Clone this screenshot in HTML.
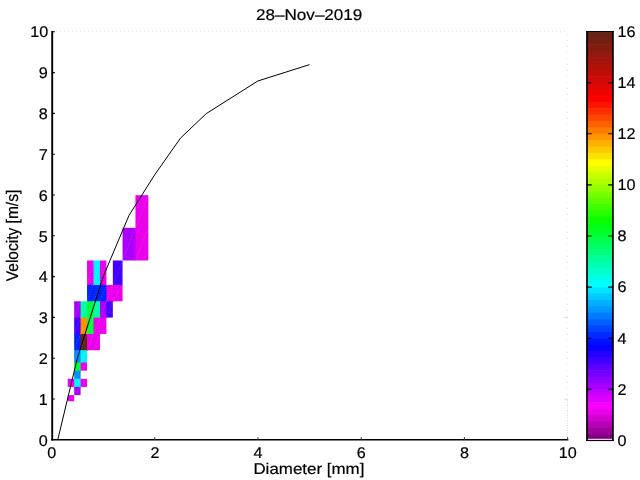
<!DOCTYPE html><html><head><meta charset="utf-8"><title>plot</title><style>html,body{margin:0;padding:0;background:#fff;overflow:hidden}svg{display:block}text{font-family:"Liberation Sans",Arial,Helvetica,sans-serif;fill:#000;stroke:#000;stroke-width:0.2px;text-rendering:geometricPrecision}</style></head><body>
<svg width="640" height="480" viewBox="0 0 640 480">
<rect width="640" height="480" fill="#fff"/>
<defs><linearGradient id="cb" x1="0" y1="1" x2="0" y2="0">
<stop offset="0.0000" stop-color="rgb(128, 0, 128)"/>
<stop offset="0.0750" stop-color="rgb(255, 0, 255)"/>
<stop offset="0.2281" stop-color="rgb(0, 0, 255)"/>
<stop offset="0.3812" stop-color="rgb(0, 255, 255)"/>
<stop offset="0.5344" stop-color="rgb(0, 255, 0)"/>
<stop offset="0.6813" stop-color="rgb(255, 255, 0)"/>
<stop offset="0.8375" stop-color="rgb(255, 0, 0)"/>
<stop offset="1.0000" stop-color="rgb(100, 35, 20)"/>
</linearGradient></defs>
<g><rect x="67.70" y="378.80" width="7.15" height="8.16" fill="rgb(234, 0, 234)"/><rect x="67.70" y="395.12" width="6.45" height="6.12" fill="rgb(234, 0, 234)"/><rect x="74.15" y="301.28" width="7.15" height="17.02" fill="rgb(172, 0, 255)"/><rect x="74.15" y="317.60" width="7.15" height="17.02" fill="rgb(68, 0, 255)"/><rect x="74.15" y="333.92" width="7.15" height="17.02" fill="rgb(0, 36, 255)"/><rect x="74.15" y="350.24" width="7.15" height="12.94" fill="rgb(0, 141, 255)"/><rect x="74.15" y="362.48" width="7.15" height="8.86" fill="rgb(0, 255, 57)"/><rect x="74.15" y="370.64" width="6.45" height="8.86" fill="rgb(0, 141, 255)"/><rect x="74.15" y="378.80" width="7.15" height="8.86" fill="rgb(0, 245, 255)"/><rect x="74.15" y="386.96" width="6.45" height="8.16" fill="rgb(172, 0, 255)"/><rect x="80.60" y="301.28" width="7.15" height="17.02" fill="rgb(0, 255, 161)"/><rect x="80.60" y="317.60" width="7.15" height="17.02" fill="rgb(255, 143, 0)"/><rect x="80.60" y="333.92" width="7.15" height="17.02" fill="rgb(100, 35, 20)"/><rect x="80.60" y="350.24" width="6.45" height="12.94" fill="rgb(0, 245, 255)"/><rect x="80.60" y="362.48" width="6.45" height="8.16" fill="rgb(234, 0, 234)"/><rect x="80.60" y="378.80" width="6.45" height="8.16" fill="rgb(234, 0, 234)"/><rect x="87.05" y="260.48" width="7.15" height="25.18" fill="rgb(234, 0, 234)"/><rect x="87.05" y="284.96" width="7.15" height="17.02" fill="rgb(0, 36, 255)"/><rect x="87.05" y="301.28" width="7.15" height="17.02" fill="rgb(0, 255, 57)"/><rect x="87.05" y="317.60" width="7.15" height="17.02" fill="rgb(0, 255, 57)"/><rect x="87.05" y="333.92" width="7.15" height="16.32" fill="rgb(234, 0, 234)"/><rect x="93.50" y="260.48" width="7.15" height="25.18" fill="rgb(0, 245, 255)"/><rect x="93.50" y="284.96" width="7.15" height="17.02" fill="rgb(0, 36, 255)"/><rect x="93.50" y="301.28" width="7.15" height="17.02" fill="rgb(0, 255, 161)"/><rect x="93.50" y="317.60" width="7.15" height="17.02" fill="rgb(234, 0, 234)"/><rect x="93.50" y="333.92" width="6.45" height="16.32" fill="rgb(234, 0, 234)"/><rect x="99.95" y="260.48" width="6.45" height="25.18" fill="rgb(234, 0, 234)"/><rect x="99.95" y="284.96" width="7.15" height="17.02" fill="rgb(0, 36, 255)"/><rect x="99.95" y="301.28" width="7.15" height="17.02" fill="rgb(172, 0, 255)"/><rect x="99.95" y="317.60" width="6.45" height="16.32" fill="rgb(234, 0, 234)"/><rect x="106.40" y="284.96" width="7.15" height="17.02" fill="rgb(234, 0, 234)"/><rect x="106.40" y="301.28" width="6.45" height="16.32" fill="rgb(68, 0, 255)"/><rect x="112.85" y="260.48" width="9.70" height="25.18" fill="rgb(68, 0, 255)"/><rect x="112.85" y="284.96" width="9.70" height="16.32" fill="rgb(234, 0, 234)"/><rect x="122.55" y="227.84" width="13.60" height="32.64" fill="rgb(172, 0, 255)"/><rect x="135.45" y="195.20" width="12.90" height="33.34" fill="rgb(234, 0, 234)"/><rect x="135.45" y="227.84" width="12.90" height="32.64" fill="rgb(234, 0, 234)"/></g>
<path d="M74.15 378.80L67.70 386.96M74.15 395.12L67.70 401.24M80.60 301.28L74.15 317.60M80.60 317.60L74.15 333.92M80.60 333.92L74.15 350.24M80.60 350.24L74.15 362.48M80.60 362.48L74.15 370.64M80.60 370.64L74.15 378.80M80.60 378.80L74.15 386.96M80.60 386.96L74.15 395.12M87.05 301.28L80.60 317.60M87.05 317.60L80.60 333.92M87.05 333.92L80.60 350.24M87.05 350.24L80.60 362.48M87.05 362.48L80.60 370.64M87.05 378.80L80.60 386.96M93.50 260.48L87.05 284.96M93.50 284.96L87.05 301.28M93.50 301.28L87.05 317.60M93.50 317.60L87.05 333.92M93.50 333.92L87.05 350.24M99.95 260.48L93.50 284.96M99.95 284.96L93.50 301.28M99.95 301.28L93.50 317.60M99.95 317.60L93.50 333.92M99.95 333.92L93.50 350.24M106.40 260.48L99.95 284.96M106.40 284.96L99.95 301.28M106.40 301.28L99.95 317.60M106.40 317.60L99.95 333.92M112.85 284.96L106.40 301.28M112.85 301.28L106.40 317.60M122.55 260.48L112.85 284.96M122.55 284.96L112.85 301.28M135.45 227.84L122.55 260.48M148.35 195.20L135.45 227.84M148.35 227.84L135.45 260.48" stroke="#fff" stroke-opacity="0.3" stroke-width="0.8" stroke-dasharray="0.8 1.6" fill="none"/>
<path d="M56.0 31.7H568.0" stroke="#e4e4e4" stroke-width="1" stroke-dasharray="1 3" fill="none"/>
<path d="M567.5 34V400" stroke="#e8e8e8" stroke-width="1" stroke-dasharray="1 5" fill="none"/>
<path d="M567.5 400V437" stroke="#d8d8d8" stroke-width="1" stroke-dasharray="1 1.5" fill="none"/>
<polyline points="57.69,440.00 77.30,358.40 103.10,276.80 128.90,215.60 154.70,174.80 180.50,138.08 206.30,113.60 257.90,80.96 309.50,64.64" fill="none" stroke="#000" stroke-width="1"/>
<path d="M52.2 31V440.6" stroke="#000" stroke-width="1.9" fill="none"/>
<path d="M51.2 439.7H568.3" stroke="#000" stroke-width="1.5" fill="none"/>
<path d="M52.0 399.00h2.8 M52.0 358.20h2.8 M52.0 317.40h2.8 M52.0 276.60h2.8 M52.0 235.80h2.8 M52.0 195.00h2.8 M52.0 154.20h2.8 M52.0 113.40h2.8 M52.0 72.60h2.8 M52.0 31.80h2.8" stroke="#000" stroke-width="1.1" fill="none"/>
<path d="M154.80 440.0v-2.8 M258.00 440.0v-2.8 M361.20 440.0v-2.8 M464.40 440.0v-2.8 M567.60 440.0v-2.8" stroke="#333" stroke-width="1" fill="none"/>
<path d="M568.0 399.20h-4 M568.0 317.60h-4" stroke="#ddd" stroke-width="1" fill="none"/>
<text x="51.70" y="457.6" font-size="15.5" text-anchor="middle" textLength="9.0" lengthAdjust="spacingAndGlyphs">0</text>
<text x="154.90" y="457.6" font-size="15.5" text-anchor="middle" textLength="9.0" lengthAdjust="spacingAndGlyphs">2</text>
<text x="258.10" y="457.6" font-size="15.5" text-anchor="middle" textLength="9.0" lengthAdjust="spacingAndGlyphs">4</text>
<text x="361.30" y="457.6" font-size="15.5" text-anchor="middle" textLength="9.0" lengthAdjust="spacingAndGlyphs">6</text>
<text x="464.50" y="457.6" font-size="15.5" text-anchor="middle" textLength="9.0" lengthAdjust="spacingAndGlyphs">8</text>
<text x="567.70" y="457.6" font-size="15.5" text-anchor="middle" textLength="18.0" lengthAdjust="spacingAndGlyphs">10</text>
<text x="47.8" y="445.60" font-size="15.5" text-anchor="end" textLength="9.0" lengthAdjust="spacingAndGlyphs">0</text>
<text x="47.8" y="404.80" font-size="15.5" text-anchor="end" textLength="9.0" lengthAdjust="spacingAndGlyphs">1</text>
<text x="47.8" y="364.00" font-size="15.5" text-anchor="end" textLength="9.0" lengthAdjust="spacingAndGlyphs">2</text>
<text x="47.8" y="323.20" font-size="15.5" text-anchor="end" textLength="9.0" lengthAdjust="spacingAndGlyphs">3</text>
<text x="47.8" y="282.40" font-size="15.5" text-anchor="end" textLength="9.0" lengthAdjust="spacingAndGlyphs">4</text>
<text x="47.8" y="241.60" font-size="15.5" text-anchor="end" textLength="9.0" lengthAdjust="spacingAndGlyphs">5</text>
<text x="47.8" y="200.80" font-size="15.5" text-anchor="end" textLength="9.0" lengthAdjust="spacingAndGlyphs">6</text>
<text x="47.8" y="160.00" font-size="15.5" text-anchor="end" textLength="9.0" lengthAdjust="spacingAndGlyphs">7</text>
<text x="47.8" y="119.20" font-size="15.5" text-anchor="end" textLength="9.0" lengthAdjust="spacingAndGlyphs">8</text>
<text x="47.8" y="78.10" font-size="15.5" text-anchor="end" textLength="9.0" lengthAdjust="spacingAndGlyphs">9</text>
<text x="48.3" y="36.70" font-size="15.5" text-anchor="end" textLength="18.0" lengthAdjust="spacingAndGlyphs">10</text>
<text x="309.2" y="20.1" font-size="15.5" text-anchor="middle" textLength="106.3" lengthAdjust="spacingAndGlyphs">28&#8211;Nov&#8211;2019</text>
<text x="308.9" y="473.8" font-size="15.5" text-anchor="middle" textLength="111" lengthAdjust="spacingAndGlyphs">Diameter [mm]</text>
<text transform="translate(18.3 235.5) rotate(-90)" font-size="16.8" text-anchor="middle" textLength="91.5" lengthAdjust="spacingAndGlyphs">Velocity [m/s]</text>
<g><rect x="586.7" y="31.50" width="26.5" height="6.99" fill="rgb(100, 35, 20)"/><rect x="586.7" y="37.89" width="26.5" height="6.99" fill="rgb(115, 32, 18)"/><rect x="586.7" y="44.28" width="26.5" height="6.99" fill="rgb(130, 28, 16)"/><rect x="586.7" y="50.67" width="26.5" height="6.99" fill="rgb(145, 25, 14)"/><rect x="586.7" y="57.06" width="26.5" height="6.99" fill="rgb(161, 21, 12)"/><rect x="586.7" y="63.45" width="26.5" height="6.99" fill="rgb(176, 18, 10)"/><rect x="586.7" y="69.84" width="26.5" height="6.99" fill="rgb(191, 14, 8)"/><rect x="586.7" y="76.23" width="26.5" height="6.99" fill="rgb(206, 11, 6)"/><rect x="586.7" y="82.62" width="26.5" height="6.99" fill="rgb(221, 8, 4)"/><rect x="586.7" y="89.02" width="26.5" height="6.99" fill="rgb(236, 4, 2)"/><rect x="586.7" y="95.41" width="26.5" height="6.99" fill="rgb(251, 1, 0)"/><rect x="586.7" y="101.80" width="26.5" height="6.99" fill="rgb(255, 20, 0)"/><rect x="586.7" y="108.19" width="26.5" height="6.99" fill="rgb(255, 46, 0)"/><rect x="586.7" y="114.58" width="26.5" height="6.99" fill="rgb(255, 72, 0)"/><rect x="586.7" y="120.97" width="26.5" height="6.99" fill="rgb(255, 97, 0)"/><rect x="586.7" y="127.36" width="26.5" height="6.99" fill="rgb(255, 123, 0)"/><rect x="586.7" y="133.75" width="26.5" height="6.99" fill="rgb(255, 149, 0)"/><rect x="586.7" y="140.14" width="26.5" height="6.99" fill="rgb(255, 175, 0)"/><rect x="586.7" y="146.53" width="26.5" height="6.99" fill="rgb(255, 201, 0)"/><rect x="586.7" y="152.92" width="26.5" height="6.99" fill="rgb(255, 227, 0)"/><rect x="586.7" y="159.31" width="26.5" height="6.99" fill="rgb(255, 253, 0)"/><rect x="586.7" y="165.70" width="26.5" height="6.99" fill="rgb(230, 255, 0)"/><rect x="586.7" y="172.09" width="26.5" height="6.99" fill="rgb(202, 255, 0)"/><rect x="586.7" y="178.48" width="26.5" height="6.99" fill="rgb(175, 255, 0)"/><rect x="586.7" y="184.88" width="26.5" height="6.99" fill="rgb(147, 255, 0)"/><rect x="586.7" y="191.27" width="26.5" height="6.99" fill="rgb(119, 255, 0)"/><rect x="586.7" y="197.66" width="26.5" height="6.99" fill="rgb(92, 255, 0)"/><rect x="586.7" y="204.05" width="26.5" height="6.99" fill="rgb(64, 255, 0)"/><rect x="586.7" y="210.44" width="26.5" height="6.99" fill="rgb(37, 255, 0)"/><rect x="586.7" y="216.83" width="26.5" height="6.99" fill="rgb(9, 255, 0)"/><rect x="586.7" y="223.22" width="26.5" height="6.99" fill="rgb(0, 255, 18)"/><rect x="586.7" y="229.61" width="26.5" height="6.99" fill="rgb(0, 255, 44)"/><rect x="586.7" y="236.00" width="26.5" height="6.99" fill="rgb(0, 255, 70)"/><rect x="586.7" y="242.39" width="26.5" height="6.99" fill="rgb(0, 255, 97)"/><rect x="586.7" y="248.78" width="26.5" height="6.99" fill="rgb(0, 255, 123)"/><rect x="586.7" y="255.17" width="26.5" height="6.99" fill="rgb(0, 255, 150)"/><rect x="586.7" y="261.56" width="26.5" height="6.99" fill="rgb(0, 255, 176)"/><rect x="586.7" y="267.95" width="26.5" height="6.99" fill="rgb(0, 255, 203)"/><rect x="586.7" y="274.34" width="26.5" height="6.99" fill="rgb(0, 255, 229)"/><rect x="586.7" y="280.73" width="26.5" height="6.99" fill="rgb(0, 255, 255)"/><rect x="586.7" y="287.12" width="26.5" height="6.99" fill="rgb(0, 228, 255)"/><rect x="586.7" y="293.52" width="26.5" height="6.99" fill="rgb(0, 202, 255)"/><rect x="586.7" y="299.91" width="26.5" height="6.99" fill="rgb(0, 175, 255)"/><rect x="586.7" y="306.30" width="26.5" height="6.99" fill="rgb(0, 149, 255)"/><rect x="586.7" y="312.69" width="26.5" height="6.99" fill="rgb(0, 122, 255)"/><rect x="586.7" y="319.08" width="26.5" height="6.99" fill="rgb(0, 96, 255)"/><rect x="586.7" y="325.47" width="26.5" height="6.99" fill="rgb(0, 69, 255)"/><rect x="586.7" y="331.86" width="26.5" height="6.99" fill="rgb(0, 43, 255)"/><rect x="586.7" y="338.25" width="26.5" height="6.99" fill="rgb(0, 17, 255)"/><rect x="586.7" y="344.64" width="26.5" height="6.99" fill="rgb(10, 0, 255)"/><rect x="586.7" y="351.03" width="26.5" height="6.99" fill="rgb(36, 0, 255)"/><rect x="586.7" y="357.42" width="26.5" height="6.99" fill="rgb(63, 0, 255)"/><rect x="586.7" y="363.81" width="26.5" height="6.99" fill="rgb(89, 0, 255)"/><rect x="586.7" y="370.20" width="26.5" height="6.99" fill="rgb(116, 0, 255)"/><rect x="586.7" y="376.59" width="26.5" height="6.99" fill="rgb(142, 0, 255)"/><rect x="586.7" y="382.98" width="26.5" height="6.99" fill="rgb(168, 0, 255)"/><rect x="586.7" y="389.38" width="26.5" height="6.99" fill="rgb(195, 0, 255)"/><rect x="586.7" y="395.77" width="26.5" height="6.99" fill="rgb(221, 0, 255)"/><rect x="586.7" y="402.16" width="26.5" height="6.99" fill="rgb(248, 0, 255)"/><rect x="586.7" y="408.55" width="26.5" height="6.99" fill="rgb(236, 0, 236)"/><rect x="586.7" y="414.94" width="26.5" height="6.99" fill="rgb(209, 0, 209)"/><rect x="586.7" y="421.33" width="26.5" height="6.99" fill="rgb(182, 0, 182)"/><rect x="586.7" y="427.72" width="26.5" height="6.99" fill="rgb(155, 0, 155)"/><rect x="586.7" y="434.11" width="26.5" height="6.99" fill="rgb(128, 0, 128)"/></g>
<path d="M586.7 439.3H613.2" stroke="#fff" stroke-width="1" fill="none"/>
<path d="M587.0 31.0V441.0M612.9000000000001 31.0V441.0" stroke="#000" stroke-width="1.7" fill="none"/>
<path d="M586.2 31.5H613.7M586.2 440.5H613.7" stroke="#000" stroke-width="1.2" fill="none"/>
<path d="M586.7 389.38h5M613.2 389.38h-5 M586.7 338.25h5M613.2 338.25h-5 M586.7 287.12h5M613.2 287.12h-5 M586.7 236.00h5M613.2 236.00h-5 M586.7 184.88h5M613.2 184.88h-5 M586.7 133.75h5M613.2 133.75h-5 M586.7 82.62h5M613.2 82.62h-5" stroke="#000" stroke-width="1.1" fill="none"/>
<text x="617.4" y="445.80" font-size="15.5" text-anchor="start" textLength="9.0" lengthAdjust="spacingAndGlyphs">0</text>
<text x="617.4" y="394.68" font-size="15.5" text-anchor="start" textLength="9.0" lengthAdjust="spacingAndGlyphs">2</text>
<text x="617.4" y="343.55" font-size="15.5" text-anchor="start" textLength="9.0" lengthAdjust="spacingAndGlyphs">4</text>
<text x="617.4" y="292.43" font-size="15.5" text-anchor="start" textLength="9.0" lengthAdjust="spacingAndGlyphs">6</text>
<text x="617.4" y="241.30" font-size="15.5" text-anchor="start" textLength="9.0" lengthAdjust="spacingAndGlyphs">8</text>
<text x="617.4" y="190.18" font-size="15.5" text-anchor="start" textLength="18.0" lengthAdjust="spacingAndGlyphs">10</text>
<text x="617.4" y="139.05" font-size="15.5" text-anchor="start" textLength="18.0" lengthAdjust="spacingAndGlyphs">12</text>
<text x="617.4" y="87.92" font-size="15.5" text-anchor="start" textLength="18.0" lengthAdjust="spacingAndGlyphs">14</text>
<text x="617.4" y="36.80" font-size="15.5" text-anchor="start" textLength="18.0" lengthAdjust="spacingAndGlyphs">16</text>
</svg></body></html>
